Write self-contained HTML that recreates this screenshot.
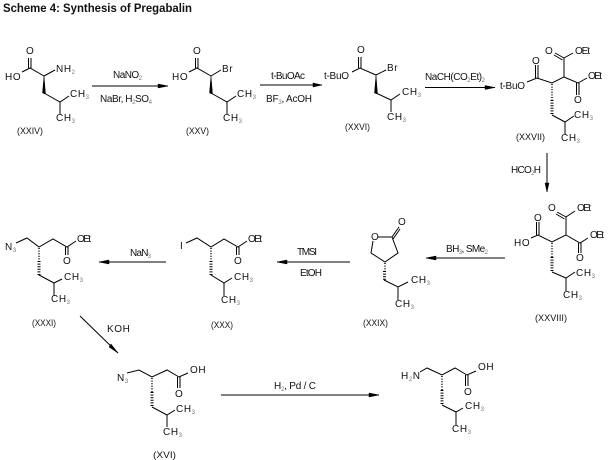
<!DOCTYPE html>
<html><head><meta charset="utf-8"><style>
html,body{margin:0;padding:0;background:#fff}
svg{display:block}
text{font-family:"Liberation Sans",sans-serif;font-size:10px;fill:#111;letter-spacing:.6px}
text[textLength]{letter-spacing:0}
.s{font-size:6px;fill:#777}
.b{fill:none;stroke:#000;stroke-width:1}
.h{fill:none;stroke:#000;stroke-dasharray:1 1.6}
.w,.a{fill:#000;stroke:#000;stroke-width:.5}
</style></head><body>
<svg width="610" height="460" viewBox="0 0 610 460" xmlns="http://www.w3.org/2000/svg">
<text x="3" y="12" style="font-size:12px;font-weight:bold" textLength="189" lengthAdjust="spacingAndGlyphs">Scheme 4: Synthesis of Pregabalin</text>

<!-- XXIV -->
<path class="b" d="M22 72L30 68L44 76M44 76L55 70M44 93L60 102L69 96M60 102V114M28.5 68V58M31 68V58"/>
<polygon class="w" points="44,76 42.5,93 45.5,94"/>
<text x="26" y="54">O</text><text x="5" y="80">HO</text>
<text x="56" y="72">NH<tspan class="s" dy="2">2</tspan></text>
<text x="70" y="97">CH<tspan class="s" dy="2">3</tspan></text>
<text x="56" y="121">CH<tspan class="s" dy="2">3</tspan></text>
<text x="17" y="134" style="font-size:9px" textLength="26" lengthAdjust="spacingAndGlyphs">(XXIV)</text>

<!-- arrow 1 -->
<path class="b" d="M92 86H168"/><polygon class="a" points="158,84 168,86 158,88"/>
<text x="113" y="78" textLength="29">NaNO<tspan class="s" dy="2">2</tspan></text>
<text x="100" y="102" textLength="52">NaBr, H<tspan class="s" dy="2">2</tspan><tspan dy="-2">SO</tspan><tspan class="s" dy="2">4</tspan></text>

<!-- XXV -->
<path class="b" d="M189 72L197 68L211 76M211 76L221 70M211 93L227 102L236 96M227 102V114M195.500 68V58M198 68V58"/>
<polygon class="w" points="211,76 209.500,93 212.500,94"/>
<text x="193" y="54">O</text><text x="172" y="80">HO</text>
<text x="222" y="72">Br</text>
<text x="237" y="97">CH<tspan class="s" dy="2">3</tspan></text>
<text x="223" y="121">CH<tspan class="s" dy="2">3</tspan></text>
<text x="186" y="134" style="font-size:9px" textLength="23" lengthAdjust="spacingAndGlyphs">(XXV)</text>

<!-- arrow 2 -->
<path class="b" d="M260 85H322"/><polygon class="a" points="313,83 322,85 313,87"/>
<text x="271" y="79" textLength="34">t-BuOAc</text>
<text x="266" y="102" textLength="46">BF<tspan class="s" dy="2">3</tspan><tspan dy="-2">, AcOH</tspan></text>

<!-- XXVI -->
<path class="b" d="M352 72L360 68L376 75M376 75L386 70M376 93L391 100L400 94M391 100V112M358.500 68V57M361 68V57"/>
<polygon class="w" points="376,75 374.500,93 377.500,94"/>
<text x="357" y="53">O</text><text x="324" y="79" textLength="25">t-BuO</text>
<text x="387" y="71">Br</text>
<text x="402" y="95">CH<tspan class="s" dy="2">3</tspan></text>
<text x="387" y="120">CH<tspan class="s" dy="2">3</tspan></text>
<text x="345" y="130" style="font-size:9px" textLength="25" lengthAdjust="spacingAndGlyphs">(XXVI)</text>

<!-- arrow 3 -->
<path class="b" d="M425 87.500H495"/><polygon class="a" points="485,85.500 495,87.500 485,89.500"/>
<text x="425" y="80" textLength="60">NaCH(CO<tspan class="s" dy="2">2</tspan><tspan dy="-2">Et)</tspan><tspan class="s" dy="2">2</tspan></text>

<!-- XXVII -->
<path class="b" d="M527 82L537 78L552 83L564 77V58L573 53M564 58L555 53M562.500 60L554 55M564 77L578 83L587 78M576.500 83V95M579 83V95M535.500 78V65M538 78V65M552 115L565 122L574 116M565 122V134"/>
<path class="h" stroke-width="1.500" d="M552 84V100"/><path class="h" stroke-width="3" d="M552 100V115"/>
<text x="532" y="64">O</text><text x="545" y="54">O</text>
<text x="575" y="54" textLength="15">OEt</text><text x="588" y="79" textLength="14">OEt</text>
<text x="574" y="103">O</text><text x="500" y="89" textLength="25">t-BuO</text>
<text x="574" y="118">CH<tspan class="s" dy="2">3</tspan></text>
<text x="561" y="141">CH<tspan class="s" dy="2">3</tspan></text>
<text x="516" y="140" style="font-size:9px" textLength="29" lengthAdjust="spacingAndGlyphs">(XXVII)</text>

<!-- HCO2H arrow -->
<path class="b" d="M547 153V192"/><polygon class="a" points="545,183 547,192 549,183"/>
<text x="511" y="173" textLength="30">HCO<tspan class="s" dy="2">2</tspan><tspan dy="-2">H</tspan></text>

<!-- XXVIII -->
<path class="b" d="M531 238L538 235L552 242L566 235V217L575 211M566 217L557 212M564.500 219L556 214M566 235L580 243L588 238M578.500 243V253M581 243V253M536.500 235V222M539 235V222M552 272L566 278L575 272M566 278V291"/>
<path class="h" stroke-width="1.500" d="M552 243V257"/><path class="h" stroke-width="3" d="M552 257V271"/>
<text x="534" y="221">O</text><text x="548" y="211">O</text>
<text x="577" y="211" textLength="14">OEt</text><text x="590" y="238" textLength="14">OEt</text>
<text x="576" y="261">O</text><text x="514" y="246">HO</text>
<text x="576" y="276">CH<tspan class="s" dy="2">3</tspan></text>
<text x="563" y="298">CH<tspan class="s" dy="2">3</tspan></text>
<text x="535" y="321" style="font-size:9px" textLength="32" lengthAdjust="spacingAndGlyphs">(XXVIII)</text>

<!-- BH3 arrow -->
<path class="b" d="M505 258H426"/><polygon class="a" points="436,256 426,258 436,260"/>
<text x="446" y="252" textLength="42">BH<tspan class="s" dy="2">3</tspan><tspan dy="-2">, SMe</tspan><tspan class="s" dy="2">2</tspan></text>

<!-- XXIX -->
<path class="b" d="M378 237L392 237L398 253L385 262L371 253L373 241M392 237L399 227M393 239L400 229M384 280L398 287L408 282M398 287V300"/>
<path class="h" stroke-width="1.500" d="M385 263V271"/><path class="h" stroke-width="3" d="M384.500 271V280"/>
<text x="371" y="240">O</text><text x="398" y="225">O</text>
<text x="411" y="283">CH<tspan class="s" dy="2">3</tspan></text>
<text x="395" y="307">CH<tspan class="s" dy="2">3</tspan></text>
<text x="363" y="326" style="font-size:9px" textLength="25" lengthAdjust="spacingAndGlyphs">(XXIX)</text>

<!-- TMSI arrow -->
<path class="b" d="M350 262H277"/><polygon class="a" points="287,260 277,262 287,264"/>
<text x="297" y="255" textLength="20">TMSI</text><text x="300" y="276" textLength="22">EtOH</text>

<!-- XXX -->
<path class="b" d="M186 243L197 238L211 247L224 239L238 247L247 241M236.500 247V255M239 247V255M211 275L224 283L232 278M224 283V296"/>
<path class="h" stroke-width="1.500" d="M211 248V261"/><path class="h" stroke-width="3" d="M211 261V275"/>
<text x="180" y="249">I</text><text x="248" y="242" textLength="14">OEt</text><text x="234" y="264">O</text>
<text x="234" y="280">CH<tspan class="s" dy="2">3</tspan></text>
<text x="221" y="303">CH<tspan class="s" dy="2">3</tspan></text>
<text x="211" y="328" style="font-size:9px" textLength="22" lengthAdjust="spacingAndGlyphs">(XXX)</text>

<!-- NaN3 arrow -->
<path class="b" d="M166 262H99"/><polygon class="a" points="109,260 99,262 109,264"/>
<text x="130" y="256" textLength="21">NaN<tspan class="s" dy="2">3</tspan></text>

<!-- XXXI -->
<path class="b" d="M16 243L27 238L39 247L53 239L67 247L76 241M65.500 247V255M68 247V255M39 275L54 283L62 279M54 283V296"/>
<path class="h" stroke-width="1.500" d="M39 248V261"/><path class="h" stroke-width="3" d="M39 261V275"/>
<text x="5" y="250">N<tspan class="s" dy="2">3</tspan></text><text x="77" y="242" textLength="14">OEt</text><text x="63" y="264">O</text>
<text x="64" y="280">CH<tspan class="s" dy="2">3</tspan></text>
<text x="51" y="302">CH<tspan class="s" dy="2">3</tspan></text>
<text x="32" y="326" style="font-size:9px" textLength="24" lengthAdjust="spacingAndGlyphs">(XXXI)</text>

<!-- KOH arrow -->
<path class="b" d="M80 316L118 353"/><polygon class="a" points="111,344 118,353 109,347"/>
<text x="107" y="332">KOH</text>

<!-- XVI -->
<path class="b" d="M127 373L139 370L152 377L167 370L179 377L188 373M177.500 377V388M180 377V388M152 407L167 415L175 410M167 415V427"/>
<path class="h" stroke-width="1.500" d="M152 378V392"/><path class="h" stroke-width="3" d="M152 392V407"/>
<text x="117" y="381">N<tspan class="s" dy="2">3</tspan></text><text x="190" y="373">OH</text><text x="175" y="397">O</text>
<text x="176" y="412">CH<tspan class="s" dy="2">3</tspan></text>
<text x="163" y="435">CH<tspan class="s" dy="2">3</tspan></text>
<text x="153" y="458" style="font-size:9px" textLength="23" lengthAdjust="spacingAndGlyphs">(XVI)</text>

<!-- H2 arrow -->
<path class="b" d="M221 395H379"/><polygon class="a" points="369,393 379,395 369,397"/>
<text x="274" y="389" textLength="42">H<tspan class="s" dy="2">2</tspan><tspan dy="-2">, Pd / C</tspan></text>

<!-- Pregabalin -->
<path class="b" d="M420 372L427 368L442 375L455 368L467 375L476 371M465.500 375V386M468 375V386M442 405L456 412L463 408M456 412V425"/>
<path class="h" stroke-width="1.500" d="M442 376V390"/><path class="h" stroke-width="3" d="M442 390V405"/>
<text x="401" y="379">H<tspan class="s" dy="2">2</tspan><tspan dy="-2">N</tspan></text><text x="478" y="370">OH</text><text x="464" y="395">O</text>
<text x="465" y="409">CH<tspan class="s" dy="2">3</tspan></text>
<text x="452" y="432">CH<tspan class="s" dy="2">3</tspan></text>
</svg>
</body></html>
